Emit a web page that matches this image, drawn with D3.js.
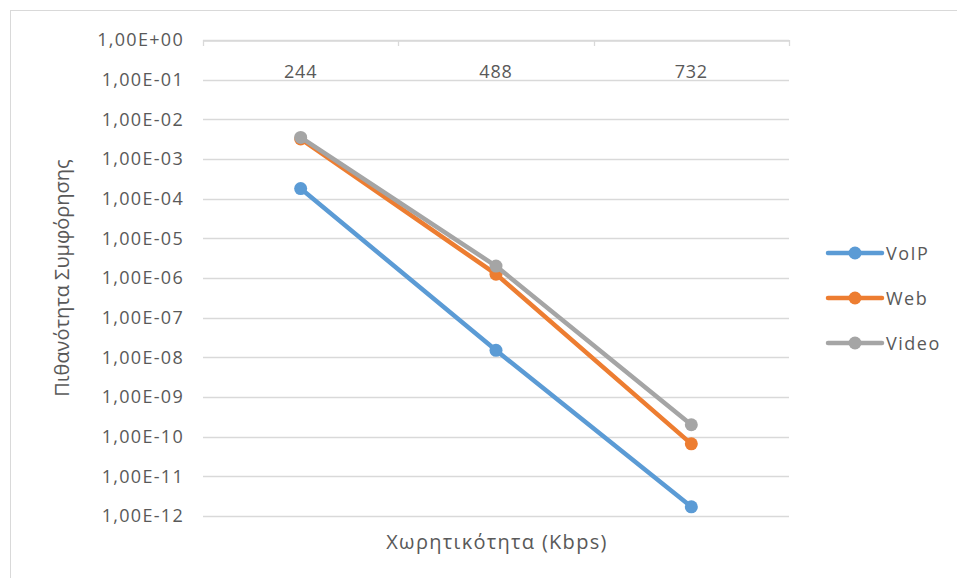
<!DOCTYPE html>
<html>
<head>
<meta charset="utf-8">
<script src="https://cdn.jsdelivr.net/npm/d3@7"></script>
<style>
  html, body { margin: 0; padding: 0; background: #fff; }
  svg { display: block; }
</style>
</head>
<body>
<svg id="chart" width="957" height="578"></svg>
<script>
// Capacity categories (Kbps)
const categories = ["244", "488", "732"];
// Blocking probability per traffic class
const voip  = [1.8e-4, 1.5e-8, 1.7e-12];
const web   = [3.2e-3, 1.25e-6, 6.6e-11];
const video = [3.5e-3, 2.0e-6, 2.0e-10];
const seriesNames = ["VoIP", "Web", "Video"];
const seriesColors = ["#5b9bd5", "#ed7d31", "#a5a5a5"];
const yTickExps = d3.range(0, -13, -1);

const series = [voip, web, video].map((vals, i) => ({
  name: seriesNames[i], color: seriesColors[i], values: vals
}));

const svg = d3.select("#chart");
const font = "'Open Sans', 'Noto Sans', sans-serif";
const txt = "#595959";

// outer chart frame
svg.append("rect").attr("x", 10.5).attr("y", 10.5)
  .attr("width", 960).attr("height", 600)
  .attr("fill", "#fff").attr("stroke", "#d9d9d9").attr("stroke-width", 1);

const plot = { left: 203, right: 789, top: 40, bottom: 516 };

const x = d3.scaleBand().domain(categories).range([plot.left, plot.right]);
const y = d3.scaleLog().domain([1, 1e-12]).range([plot.top, plot.bottom]);

// gridlines at every decade
svg.append("g").selectAll("line").data(yTickExps).join("line")
  .attr("x1", plot.left).attr("x2", plot.right)
  .attr("y1", d => Math.round(y(Math.pow(10, d))) + 0.5)
  .attr("y2", d => Math.round(y(Math.pow(10, d))) + 0.5)
  .attr("stroke", "#d9d9d9").attr("stroke-width", 1.3);

// category axis along the top
const xAxis = d3.axisTop(x).tickSize(0).tickSizeOuter(0);
const gx = svg.append("g").attr("transform", `translate(0,${plot.top + 0.5})`).call(xAxis);
gx.select(".domain").attr("stroke", "#d9d9d9").attr("stroke-width", 1.3);
gx.selectAll(".tick text").remove();
// tick marks on band boundaries
const bounds = categories.map(c => x(c)).concat([plot.right]);
svg.append("g").selectAll("line").data(bounds).join("line")
  .attr("x1", d => Math.round(d) + 0.5).attr("x2", d => Math.round(d) + 0.5)
  .attr("y1", plot.top).attr("y2", plot.top + 6)
  .attr("stroke", "#d9d9d9").attr("stroke-width", 1.3);
// category labels
svg.append("g").selectAll("text").data(categories).join("text")
  .attr("x", d => x(d) + x.bandwidth() / 2)
  .attr("y", 78)
  .attr("text-anchor", "middle")
  .attr("font-family", font).attr("font-size", 18).attr("letter-spacing", 0.8).attr("fill", txt)
  .text(d => d);

// value axis labels
const fmt = e => "1,00E" + (e >= 0 ? "+" : "-") + String(Math.abs(e)).padStart(2, "0");
const yAxis = d3.axisLeft(y).tickValues(yTickExps.map(e => Math.pow(10, e)))
  .tickSize(0).tickPadding(19)
  .tickFormat(v => fmt(Math.round(Math.log10(v))));
const gy = svg.append("g").attr("transform", `translate(${plot.left},0)`).call(yAxis);
gy.select(".domain").remove();
gy.selectAll("text").attr("font-family", font).attr("font-size", 18)
  .attr("letter-spacing", 1.3).attr("fill", txt);

// axis titles
svg.append("text").attr("x", (plot.left + plot.right) / 2 + 1).attr("y", 549)
  .attr("text-anchor", "middle").attr("font-family", font).attr("font-size", 20)
  .attr("letter-spacing", 1.3).attr("fill", txt).text("Χωρητικότητα (Kbps)");
svg.append("text")
  .attr("transform", `translate(69,${(plot.top + plot.bottom) / 2}) rotate(-90)`)
  .attr("text-anchor", "middle").attr("font-family", font).attr("font-size", 20)
  .attr("letter-spacing", 0).attr("fill", txt).text("Πιθανότητα Συμφόρησης");

// series lines and markers
const line = d3.line()
  .x((d, i) => x(categories[i]) + x.bandwidth() / 2)
  .y(d => y(d));

const gs = svg.append("g").selectAll("g").data(series).join("g");
gs.append("path")
  .attr("d", d => line(d.values))
  .attr("fill", "none").attr("stroke", d => d.color)
  .attr("stroke-width", 4.5).attr("stroke-linejoin", "round").attr("stroke-linecap", "round");
gs.selectAll("circle").data(d => d.values.map(v => ({ v, c: d.color }))).join("circle")
  .attr("cx", (d, i) => x(categories[i]) + x.bandwidth() / 2)
  .attr("cy", d => y(d.v))
  .attr("r", 6.5).attr("fill", d => d.c);

// legend
const lg = svg.append("g").selectAll("g").data(series).join("g")
  .attr("transform", (d, i) => `translate(828,${253 + i * 45})`);
lg.append("line").attr("x1", 0).attr("x2", 54).attr("y1", 0).attr("y2", 0)
  .attr("stroke", d => d.color).attr("stroke-width", 4.5).attr("stroke-linecap", "round");
lg.append("circle").attr("cx", 27).attr("cy", 0).attr("r", 6.5).attr("fill", d => d.color);
lg.append("text").attr("x", 58).attr("y", 7)
  .attr("font-family", font).attr("font-size", 18).attr("letter-spacing", 1.5).attr("fill", txt)
  .text(d => d.name);
</script>
</body>
</html>
